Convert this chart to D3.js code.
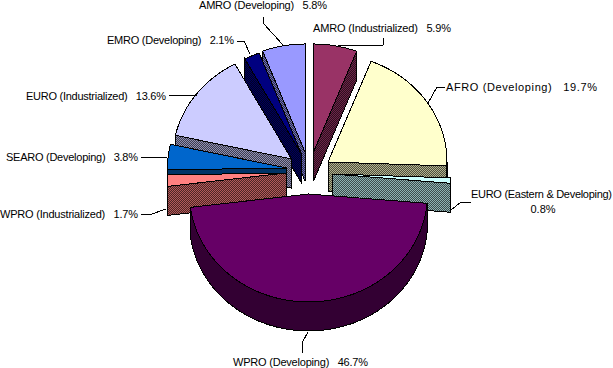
<!DOCTYPE html>
<html>
<head>
<meta charset="utf-8">
<script src="https://cdn.jsdelivr.net/npm/d3@7"></script>
<style>
  html, body { margin: 0; padding: 0; background: #fff; overflow: hidden; }
  text { font-family: "Liberation Sans", Arial, sans-serif; font-size: 11px; fill: #000; white-space: pre; }
</style>
</head>
<body>
<div id="chart"></div>
<script>
// data, clockwise from 12 o'clock
const categories = ["AMRO (Industrialized)", "AFRO (Developing)", "EURO (Eastern & Developing)",
    "WPRO (Developing)", "WPRO (Industrialized)", "SEARO (Developing)",
    "EURO (Industrialized)", "EMRO (Developing)", "AMRO (Developing)"];
const shares = [5.9, 19.7, 0.8, 46.7, 1.7, 3.8, 13.6, 2.1, 5.8];
const colors = ["#993366", "#FFFFCC", "#CCFFFF", "#660066", "#FF8080", "#0066CC", "#CCCCFF", "#000080", "#9999FF"];
// walls: solid colour if given, otherwise a dither of the darkened top colour
const wallColors = [null, null, null, "#330033", null, "#003366", null, null, null];

// layout, same order as categories
const explodedCenters = [[313.5, 152], [328, 162], [332, 174], [308.5, 194], [286, 173], [286.5, 168], [291.5, 159], [301.5, 154], [305, 152]];
const paintOrder = [8, 7, 6, 0, 1, 5, 4, 2, 3];
const labelPos = [[313, 32], [446, 91], [471, 198], [233, 366], [0, 218], [6, 161], [26, 100], [107, 44], [199, 9]];
const labelWidths = [138, 151, 141, 135, 138, 132, 140, 127, 128];
const leaders = [
    [[383, 38], [383, 45], [338, 46]],
    [[445, 87], [437, 87], [428, 103]],
    [[471, 202], [461, 202], [451, 210]],
    [[308, 332], [302, 343], [302, 353]],
    [[141, 215], [152, 214], [166, 209]],
    [[141, 157], [167, 157]],
    [[169, 96], [197, 95]],
    [[237, 41], [244, 41], [250, 54]],
    [[263, 17], [263, 23], [283, 45]]
];

const width = 613, height = 368;
const rx = 119, ry = 108, depth = 29;

const svg = d3.select("#chart").append("svg")
    .attr("width", width)
    .attr("height", height)
    .style("display", "block");

const shade = (c, k) => {
    const r = d3.rgb(c);
    return d3.rgb(r.r * k, r.g * k, r.b * k).formatHex();
};

const defs = svg.append("defs");
colors.forEach((c, i) => {
    const p = defs.append("pattern")
        .attr("id", "dither" + i)
        .attr("width", 2).attr("height", 2)
        .attr("patternUnits", "userSpaceOnUse")
        .attr("shape-rendering", "crispEdges");
    p.append("rect").attr("width", 2).attr("height", 2).attr("fill", shade(c, 0.3));
    p.append("rect").attr("width", 1).attr("height", 1).attr("fill", shade(c, 0.7));
    p.append("rect").attr("x", 1).attr("y", 1).attr("width", 1).attr("height", 1).attr("fill", shade(c, 0.7));
});

const arcs = d3.pie().sort(null).value(d => d)(shares);

// unit circle to page pixels, one pair of scales per exploded slice
const scalesFor = i => ({
    x: d3.scaleLinear().domain([-1, 1]).range([explodedCenters[i][0] - rx, explodedCenters[i][0] + rx]),
    y: d3.scaleLinear().domain([-1, 1]).range([explodedCenters[i][1] - ry, explodedCenters[i][1] + ry])
});
const line = d3.line();
const sampleAngles = (a0, a1) => d3.range(0, 41).map(k => a0 + (a1 - a0) * k / 40);

const pies = svg.append("g").attr("shape-rendering", "crispEdges");

paintOrder.forEach(i => {
    const d = arcs[i], s = scalesFor(i);
    const g = pies.append("g");
    const wallFill = wallColors[i] || "url(#dither" + i + ")";
    const px = a => [s.x(Math.sin(a)), s.y(-Math.cos(a))];
    const center = [s.x(0), s.y(0)];
    const down = p => [p[0], p[1] + depth];

    // outer rim, only the part that faces front
    const a0 = Math.max(d.startAngle, Math.PI / 2), a1 = Math.min(d.endAngle, 3 * Math.PI / 2);
    if (a1 > a0) {
        const rim = sampleAngles(a0, a1).map(px);
        g.append("path")
            .attr("d", line(rim.concat(rim.slice().reverse().map(down))) + "Z")
            .attr("fill", wallFill).attr("stroke", "#000");
    }
    // cut face
    const cut = d.endAngle <= Math.PI ? d.endAngle : (d.startAngle >= Math.PI ? d.startAngle : null);
    if (cut !== null) {
        const e = px(cut);
        g.append("path")
            .attr("d", line([center, e, down(e), down(center)]) + "Z")
            .attr("fill", wallFill).attr("stroke", "#000");
    }
    // top surface
    const top = [center].concat(sampleAngles(d.startAngle, d.endAngle).map(px));
    g.append("path")
        .attr("d", line(top) + "Z")
        .attr("fill", colors[i]).attr("stroke", "#000");
});

// leader lines
svg.append("g").attr("shape-rendering", "crispEdges").selectAll("path").data(leaders).enter().append("path")
    .attr("d", d => line(d))
    .attr("fill", "none")
    .attr("stroke", "#000");

// labels, squeezed to the widths they have in the reference
const labels = svg.append("g");
categories.forEach((c, i) => {
    const val = shares[i].toFixed(1) + "%";
    if (i === 2) {
        labels.append("text").attr("x", labelPos[i][0]).attr("y", labelPos[i][1])
            .attr("textLength", labelWidths[i]).text(c);
        labels.append("text").attr("x", labelPos[i][0] + 72).attr("y", labelPos[i][1] + 15)
            .attr("text-anchor", "middle").text(val);
    } else {
        labels.append("text").attr("x", labelPos[i][0]).attr("y", labelPos[i][1])
            .attr("textLength", labelWidths[i]).text(c + "   " + val);
    }
});
</script>
</body>
</html>
